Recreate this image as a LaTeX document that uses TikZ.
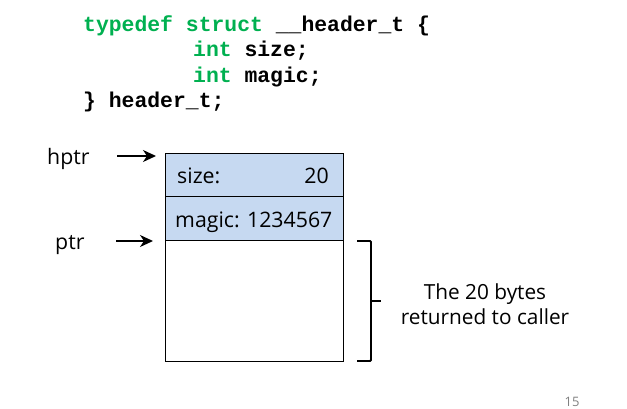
\documentclass[tikz,border=0pt]{standalone}
\usepackage{fontspec}
\setmainfont{Open Sans}
\newfontfamily\codefont{Liberation Mono}
\usetikzlibrary{arrows.meta}
\definecolor{codegreen}{HTML}{00B050}
\definecolor{cellblue}{HTML}{C6D9F1}
\begin{document}
\begin{tikzpicture}[x=1pt,y=-1pt,
  code/.style={anchor=base west,inner sep=0pt,font=\codefont\bfseries\fontsize{21.4}{24}\selectfont},
  lbl/.style={inner sep=0pt,font=\fontsize{21.3}{24}\selectfont},
  cell/.style={draw=black,line width=1.1pt,anchor=north west,inner sep=0pt,minimum width=178pt},
  ptrarrow/.style={-{Stealth[length=13pt,width=12pt,inset=4pt]},line width=1.5pt}]
\useasboundingbox (0,0) rectangle (627,408);
% code
\node[code] (c1) at (83,31) {\textcolor{codegreen}{typedef struct} \_\_header\_t \{};
\node[code] (c2) at (193,56.5) {\textcolor{codegreen}{int} size;};
\node[code] (c3) at (193,82) {\textcolor{codegreen}{int} magic;};
\node[code] (c4) at (83,107.5) {\} header\_t;};
% memory cells
\node[cell,fill=cellblue,minimum height=43pt] (size) at (165,153) {};
\node[cell,fill=cellblue,minimum height=44pt] (magic) at (165,196) {};
\node[cell,minimum height=121pt] (data) at (165,240) {};
\node[lbl,anchor=base west] (sizel) at (177,183) {size:};
\node[lbl,anchor=base east] (sizev) at (329,183) {20};
\node[lbl,anchor=base west] (magl) at (175,227) {magic: 1234567};
% pointers
\node[lbl,anchor=base west] (hptr) at (47,164) {hptr};
\node[lbl,anchor=base west] (ptr) at (55,249) {ptr};
\coordinate (hs) at (117,156);
\coordinate (he) at (156,156);
\coordinate (ps) at (116,241);
\coordinate (pe) at (153,241);
\draw[ptrarrow] (hs) -- (he);
\draw[ptrarrow] (ps) -- (pe);
% bracket
\coordinate (bt) at (357,241);
\coordinate (bb) at (357,361);
\coordinate (bm) at (371,301);
\coordinate (bx) at (381,301);
\draw[line width=1.8pt,rounded corners=1pt] (bt) -- (371,241) -- (371,361) -- (bb);
\draw[line width=1.8pt] (bm) -- (bx);
\node[lbl,align=center,font=\fontsize{20.8}{25}\selectfont] (note) at (485,304) {The 20 bytes\\returned to caller};
% page number
\node[inner sep=0pt,anchor=base,text=gray,font=\fontsize{13}{15}\selectfont] (pg) at (572,406) {15};
\end{tikzpicture}
\end{document}
